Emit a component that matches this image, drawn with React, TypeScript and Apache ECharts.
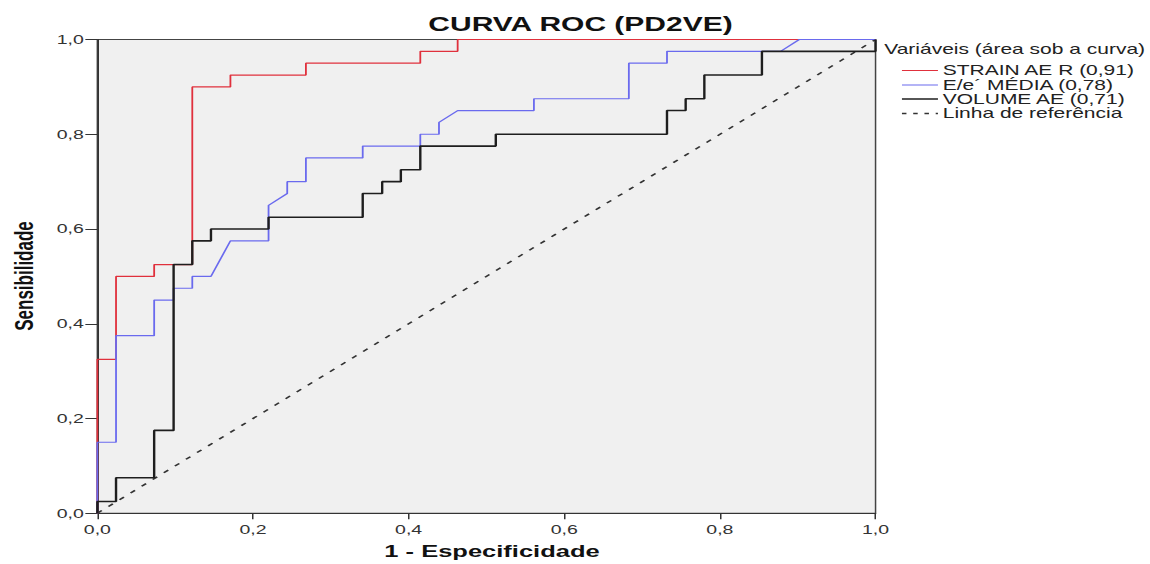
import React, { useEffect, useRef } from "react";
import * as echarts from "echarts";

// ROC points (1 - especificidade, sensibilidade) for each variable
const STRAIN_FPR = [0, 0, 0.024, 0.024, 0.073, 0.073, 0.122, 0.122, 0.171, 0.171, 0.268, 0.268, 0.415, 0.415, 0.463, 0.463, 1];
const STRAIN_TPR = [0, 0.325, 0.325, 0.5, 0.5, 0.525, 0.525, 0.9, 0.9, 0.925, 0.925, 0.95, 0.95, 0.975, 0.975, 1, 1];

const EE_FPR = [0, 0, 0.024, 0.024, 0.073, 0.073, 0.098, 0.098, 0.122, 0.122, 0.146, 0.171, 0.22, 0.22, 0.244, 0.244, 0.268, 0.268, 0.341, 0.341, 0.415, 0.415, 0.439, 0.439, 0.463, 0.561, 0.561, 0.683, 0.683, 0.732, 0.732, 0.878, 0.902, 1];
const EE_TPR = [0, 0.15, 0.15, 0.375, 0.375, 0.45, 0.45, 0.475, 0.475, 0.5, 0.5, 0.575, 0.575, 0.65, 0.675, 0.7, 0.7, 0.75, 0.75, 0.775, 0.775, 0.8, 0.8, 0.825, 0.85, 0.85, 0.875, 0.875, 0.95, 0.95, 0.975, 0.975, 1, 1];

const VOL_FPR = [0, 0, 0.024, 0.024, 0.073, 0.073, 0.098, 0.098, 0.122, 0.122, 0.146, 0.146, 0.22, 0.22, 0.341, 0.341, 0.366, 0.366, 0.39, 0.39, 0.415, 0.415, 0.512, 0.512, 0.732, 0.732, 0.756, 0.756, 0.78, 0.78, 0.854, 0.854, 1, 1];
const VOL_TPR = [0, 0.025, 0.025, 0.075, 0.075, 0.175, 0.175, 0.525, 0.525, 0.575, 0.575, 0.6, 0.6, 0.625, 0.625, 0.675, 0.675, 0.7, 0.7, 0.725, 0.725, 0.775, 0.775, 0.8, 0.8, 0.85, 0.85, 0.875, 0.875, 0.925, 0.925, 0.975, 0.975, 1];

const REF_X = [0, 1];
const REF_Y = [0, 1];

const SERIES_NAMES = ["STRAIN AE R (0,91)", "E/e´ MÉDIA (0,78)", "VOLUME AE (0,71)", "Linha de referência"];
const SERIES_COLORS = ["#e0303c", "#6a6aee", "#1e1e1e", "#333333"];
const SERIES_WIDTHS = [1.2, 1.2, 1.6, 1.4];
const TITLE = "CURVA ROC (PD2VE)";
const X_NAME = "1 - Especificidade";
const Y_NAME = "Sensibilidade";
const LEGEND_TITLE = "Variáveis (área sob a curva)";

const FONT = '"Liberation Sans", Arial, sans-serif';

const zip = (xs: number[], ys: number[]) => xs.map((x, i) => [x, ys[i]]);
const fmt = (v: number) => v.toFixed(1).replace(".", ",");

export default function App() {
  const ref = useRef<HTMLDivElement>(null);

  useEffect(() => {
    const chart = echarts.init(ref.current!, null, { renderer: "svg" });
    const lineSeries = (i: number, data: number[][], type: any = "solid") => ({
      name: SERIES_NAMES[i],
      type: "line",
      data,
      symbol: "none",
      showSymbol: false,
      silent: true,
      lineStyle: { color: SERIES_COLORS[i], width: SERIES_WIDTHS[i], type },
      itemStyle: { color: SERIES_COLORS[i] },
    });

    // hand-drawn legend block: a caption, then one line sample + label per series
    const legendRows = [70.5, 85, 99, 113.5];
    const legendItems: any[] = [];
    SERIES_NAMES.forEach((name, i) => {
      const y = legendRows[i];
      legendItems.push({
        type: "line",
        shape: { x1: 601.3, y1: y, x2: 625.3, y2: y },
        style: {
          stroke: SERIES_COLORS[i],
          lineWidth: i === 3 ? 1.4 : SERIES_WIDTHS[i],
          lineDash: i === 3 ? [3, 4.5] : null,
        },
      });
      legendItems.push({
        type: "text",
        x: 628.5,
        y,
        style: {
          text: name,
          fontSize: 14,
          fontFamily: FONT,
          fill: "#222",
          textAlign: "left",
          textVerticalAlign: "middle",
        },
      });
    });

    chart.setOption({
      animation: false,
      backgroundColor: "#ffffff",
      textStyle: { fontFamily: FONT },
      grid: {
        left: 64.9,
        right: 182.3,
        top: 39.5,
        bottom: 50.7,
        show: true,
        backgroundColor: "#f0f0f0",
        borderColor: "#444",
        borderWidth: 1,
      },
      xAxis: {
        type: "value",
        min: 0,
        max: 1,
        interval: 0.2,
        axisLine: { show: true, lineStyle: { color: "#333", width: 1 } },
        axisTick: { show: true, length: 6, lineStyle: { color: "#333" } },
        axisLabel: { formatter: fmt, color: "#333", fontSize: 13, margin: 10, fontFamily: FONT },
        splitLine: { show: false },
      },
      yAxis: {
        type: "value",
        min: 0,
        max: 1,
        interval: 0.2,
        axisLine: { show: true, lineStyle: { color: "#333", width: 1 } },
        axisTick: { show: true, length: 8, lineStyle: { color: "#333" } },
        axisLabel: { formatter: fmt, color: "#333", fontSize: 13, margin: 9, fontFamily: FONT },
        splitLine: { show: false },
      },
      graphic: [
        {
          type: "text",
          x: 387,
          y: 23.5,
          style: {
            text: TITLE,
            fontSize: 20,
            fontWeight: "bold",
            fontFamily: FONT,
            fill: "#111",
            textAlign: "center",
            textVerticalAlign: "middle",
          },
        },
        {
          type: "text",
          x: 328,
          y: 551,
          style: {
            text: X_NAME,
            fontSize: 17,
            fontWeight: "bold",
            fontFamily: FONT,
            fill: "#111",
            textAlign: "center",
            textVerticalAlign: "middle",
          },
        },
        {
          type: "text",
          x: 16,
          y: 276,
          rotation: Math.PI / 2,
          style: {
            text: Y_NAME,
            fontSize: 17,
            fontWeight: "bold",
            fontFamily: FONT,
            fill: "#111",
            textAlign: "center",
            textVerticalAlign: "middle",
          },
        },
        {
          type: "text",
          x: 589.5,
          y: 49,
          style: {
            text: LEGEND_TITLE,
            fontSize: 14,
            fontFamily: FONT,
            fill: "#222",
            textAlign: "left",
            textVerticalAlign: "middle",
          },
        },
        ...legendItems,
      ],
      series: [
        lineSeries(3, zip(REF_X, REF_Y), [4, 6]),
        lineSeries(0, zip(STRAIN_FPR, STRAIN_TPR)),
        lineSeries(1, zip(EE_FPR, EE_TPR)),
        lineSeries(2, zip(VOL_FPR, VOL_TPR)),
      ],
    });
    return () => chart.dispose();
  }, []);

  return (
    <div
      ref={ref}
      style={{
        position: "absolute",
        left: 0,
        top: 0,
        width: 766,
        height: 564,
        transform: "scaleX(1.5)",
        transformOrigin: "0 0",
        background: "#fff",
      }}
    />
  );
}
